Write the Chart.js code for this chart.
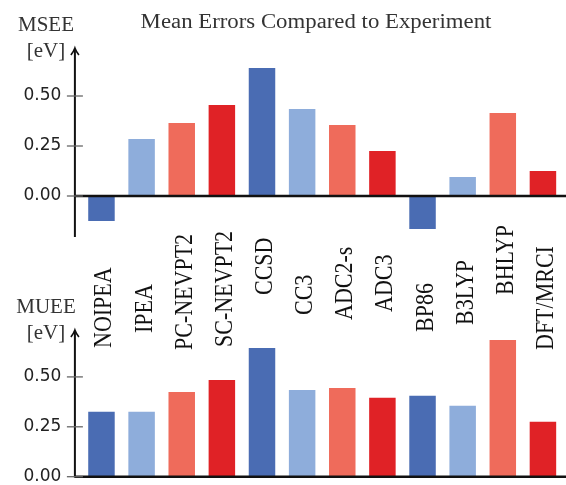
<!DOCTYPE html>
<html>
<head>
<meta charset="utf-8">
<script src="https://cdn.jsdelivr.net/npm/chart.js@4.4.0/dist/chart.umd.min.js"></script>
<style>
  html, body { margin: 0; padding: 0; background: #fff; }
  #wrap { position: relative; width: 566px; height: 485px; }
  canvas { position: absolute; left: 0; top: 0; }
</style>
</head>
<body>
<div id="wrap">
  <canvas id="msee" width="566" height="485"></canvas>
  <canvas id="muee" width="566" height="485"></canvas>
</div>
<script>
const methods = ['NOIPEA', 'IPEA', 'PC-NEVPT2', 'SC-NEVPT2', 'CCSD', 'CC3', 'ADC2-s', 'ADC3', 'BP86', 'B3LYP', 'BHLYP', 'DFT/MRCI'];
const msee = [-0.13, 0.29, 0.37, 0.46, 0.645, 0.44, 0.36, 0.23, -0.17, 0.10, 0.42, 0.13];
const muee = [0.33, 0.33, 0.43, 0.49, 0.65, 0.44, 0.45, 0.40, 0.41, 0.36, 0.69, 0.28];
const tickValues = [0, 0.25, 0.5];

// layout only: y (px) where each rotated method name starts
const labelStart = [348, 333, 350, 347, 295, 315, 320, 312, 332, 325, 295, 350];

const palette = ['#4a6cb3', '#8eaddb', '#ef6b5b', '#e02226'];
const barColors = methods.map((m, i) => palette[i % 4]);

const SERIF = '"Liberation Serif", "DejaVu Serif", serif';
const SANS = '"DejaVu Sans", sans-serif';

const drawText = (ctx, text, x, y, opts) => {
    ctx.save();
    ctx.translate(x, y);
    ctx.scale(opts.sx || 1, 1);
    if (opts.rot) ctx.rotate(opts.rot);
    ctx.font = opts.font;
    ctx.fillStyle = opts.color || '#222';
    ctx.textAlign = opts.align || 'left';
    ctx.textBaseline = 'alphabetic';
    ctx.fillText(text, 0, 0);
    ctx.restore();
};

// arrow axis, tick marks, zero line and the caption on the left
const axisDecor = (name, extra) => ({
    id: 'axisDecor',
    afterDatasetsDraw(chart) {
        const { ctx, chartArea, scales: { y } } = chart;
        const ax = chartArea.left - 6.5;
        const top = chartArea.top;
        const y0 = y.getPixelForValue(0);
        ctx.save();
        ctx.strokeStyle = '#111';
        ctx.lineWidth = 2.6;
        ctx.beginPath();
        ctx.moveTo(ax, y0);
        ctx.lineTo(chart.width, y0);
        ctx.stroke();

        ctx.lineWidth = 2;
        ctx.beginPath();
        ctx.moveTo(ax, chartArea.bottom + 1);
        ctx.lineTo(ax, top + 1);
        ctx.stroke();

        ctx.lineWidth = 1.6;
        ctx.beginPath();
        ctx.moveTo(ax - 4, top + 7);
        ctx.quadraticCurveTo(ax - 1, top + 3, ax, top);
        ctx.quadraticCurveTo(ax + 1, top + 3, ax + 4, top + 7);
        ctx.stroke();

        ctx.strokeStyle = '#666';
        ctx.lineWidth = 1.3;
        tickValues.forEach(v => {
            const ty = y.getPixelForValue(v);
            ctx.beginPath();
            ctx.moveTo(ax - 8, ty);
            ctx.lineTo(ax + 8, ty);
            ctx.stroke();
        });
        ctx.restore();

        drawText(ctx, name, 46, top - 17, { font: '21px ' + SERIF, align: 'center', color: '#333' });
        drawText(ctx, '[eV]', 46, top + 9, { font: '21px ' + SERIF, align: 'center', color: '#333' });
        if (extra) extra(chart);
    }
});

const drawTitle = (chart) => {
    drawText(chart.ctx, 'Mean Errors Compared to Experiment', 316, 28, { font: '20px ' + SERIF, align: 'center', color: '#333', sx: 1.14 });
};

const drawMethodNames = (chart) => {
    const { ctx, scales: { x } } = chart;
    methods.forEach((m, i) => {
        const cx = x.getPixelForValue(i);
        drawText(ctx, m, cx + 10, labelStart[i], { font: '22px ' + SERIF, rot: -Math.PI / 2, color: '#111', sx: 1.1 });
    });
};

const makeChart = (id, values, yMin, yMax, padding, extra, name) => new Chart(document.getElementById(id), {
    type: 'bar',
    data: {
        labels: methods,
        datasets: [{
            data: values,
            backgroundColor: barColors,
            borderColor: 'rgba(255,255,255,0.45)',
            borderWidth: 1,
            categoryPercentage: 1,
            barPercentage: 0.71,
        }]
    },
    options: {
        responsive: false,
        animation: false,
        layout: { padding },
        plugins: {
            legend: { display: false },
            title: { display: false },
            tooltip: { enabled: false },
        },
        scales: {
            x: { display: false, offset: true },
            y: {
                min: yMin,
                max: yMax,
                afterFit(scale) {
                    scale.width = 81.4;
                    scale.paddingTop = 0;
                    scale.paddingBottom = 0;
                },
                afterBuildTicks(scale) { scale.ticks = tickValues.map(v => ({ value: v })); },
                grid: { display: false, drawTicks: false },
                border: { display: false },
                ticks: {
                    padding: 20,
                    color: '#222',
                    font: { family: SANS, size: 17 },
                    callback: v => v.toFixed(2),
                },
            },
        },
    },
    plugins: [axisDecor(name, extra)],
});

makeChart('msee', msee, -0.2, 0.74, { top: 48, bottom: 249, left: 0, right: 3 }, drawTitle, 'MSEE');
makeChart('muee', muee, 0, 0.735, { top: 330, bottom: 8.3, left: 0, right: 3 }, drawMethodNames, 'MUEE');
</script>
</body>
</html>
